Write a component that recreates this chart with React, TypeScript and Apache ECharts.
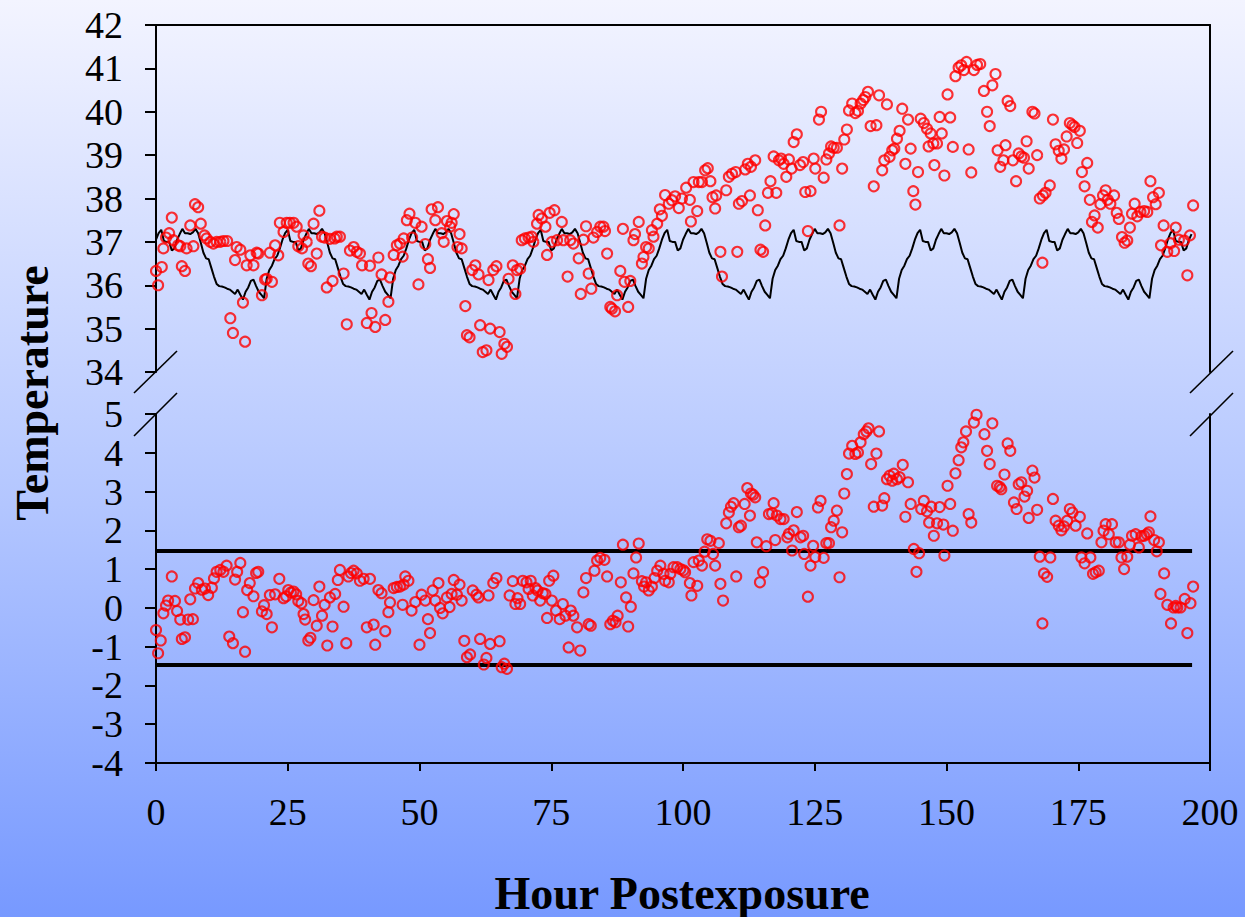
import React, { useEffect, useRef } from "react";
import * as echarts from "echarts";

// ---------- DATA ----------
const hourTicks = [0, 25, 50, 75, 100, 125, 150, 175, 200];
const upperRange = [34, 42];
const lowerRange = [-4, 5];
const limitValues = [1.47, -1.47];
const limitHours = [0, 196.6];
const baselineStep = 0.5; // hours between baseline samples

// normal (baseline) temperature, every half hour from hour 0
const baselineTemp = [
  37.05, 37.2, 37.28, 37.02, 37.0, 37.0, 36.8, 36.85, 37.05, 37.18, 37.3, 37.2, 37.2, 37.18, 37.22, 37.3, 37.2, 36.98, 36.75, 36.62, 36.6, 36.4, 36.2, 36.03, 35.98, 35.97, 35.95, 35.92, 35.9, 35.85, 35.8, 35.9, 35.78, 35.67, 35.85, 35.95, 36.1, 36.13, 35.98, 35.85, 35.78, 35.7, 36.15, 36.35, 36.45, 36.6, 36.68, 36.85,
  37.05, 37.2, 37.28, 37.02, 37.0, 37.0, 36.8, 36.85, 37.05, 37.18, 37.3, 37.2, 37.2, 37.18, 37.22, 37.3, 37.2, 36.98, 36.75, 36.62, 36.6, 36.4, 36.2, 36.03, 35.98, 35.97, 35.95, 35.92, 35.9, 35.85, 35.8, 35.9, 35.78, 35.67, 35.85, 35.95, 36.1, 36.13, 35.98, 35.85, 35.78, 35.7, 36.15, 36.35, 36.45, 36.6, 36.68, 36.85,
  37.05, 37.2, 37.28, 37.02, 37.0, 37.0, 36.8, 36.85, 37.05, 37.18, 37.3, 37.2, 37.2, 37.18, 37.22, 37.3, 37.2, 36.98, 36.75, 36.62, 36.6, 36.4, 36.2, 36.03, 35.98, 35.97, 35.95, 35.92, 35.9, 35.85, 35.8, 35.9, 35.78, 35.67, 35.85, 35.95, 36.1, 36.13, 35.98, 35.85, 35.78, 35.7, 36.15, 36.35, 36.45, 36.6, 36.68, 36.85,
  37.05, 37.2, 37.28, 37.02, 37.0, 37.0, 36.8, 36.85, 37.05, 37.18, 37.3, 37.2, 37.2, 37.18, 37.22, 37.3, 37.2, 36.98, 36.75, 36.62, 36.6, 36.4, 36.2, 36.03, 35.98, 35.97, 35.95, 35.92, 35.9, 35.85, 35.8, 35.9, 35.78, 35.67, 35.85, 35.95, 36.1, 36.13, 35.98, 35.85, 35.78, 35.7, 36.15, 36.35, 36.45, 36.6, 36.68, 36.85,
  37.05, 37.2, 37.28, 37.02, 37.0, 37.0, 36.8, 36.85, 37.05, 37.18, 37.3, 37.2, 37.2, 37.18, 37.22, 37.3, 37.2, 36.98, 36.75, 36.62, 36.6, 36.4, 36.2, 36.03, 35.98, 35.97, 35.95, 35.92, 35.9, 35.85, 35.8, 35.9, 35.78, 35.67, 35.85, 35.95, 36.1, 36.13, 35.98, 35.85, 35.78, 35.7, 36.15, 36.35, 36.45, 36.6, 36.68, 36.85,
  37.05, 37.2, 37.28, 37.02, 37.0, 37.0, 36.8, 36.85, 37.05, 37.18, 37.3, 37.2, 37.2, 37.18, 37.22, 37.3, 37.2, 36.98, 36.75, 36.62, 36.6, 36.4, 36.2, 36.03, 35.98, 35.97, 35.95, 35.92, 35.9, 35.85, 35.8, 35.9, 35.78, 35.67, 35.85, 35.95, 36.1, 36.13, 35.98, 35.85, 35.78, 35.7, 36.15, 36.35, 36.45, 36.6, 36.68, 36.85,
  37.05, 37.2, 37.28, 37.02, 37.0, 37.0, 36.8, 36.85, 37.05, 37.18, 37.3, 37.2, 37.2, 37.18, 37.22, 37.3, 37.2, 36.98, 36.75, 36.62, 36.6, 36.4, 36.2, 36.03, 35.98, 35.97, 35.95, 35.92, 35.9, 35.85, 35.8, 35.9, 35.78, 35.67, 35.85, 35.95, 36.1, 36.13, 35.98, 35.85, 35.78, 35.7, 36.15, 36.35, 36.45, 36.6, 36.68, 36.85,
  37.05, 37.2, 37.28, 37.02, 37.0, 37.0, 36.8, 36.85, 37.05, 37.18, 37.3, 37.2, 37.2, 37.18, 37.22, 37.3, 37.2, 36.98, 36.75, 36.62, 36.6, 36.4, 36.2, 36.03, 35.98, 35.97, 35.95, 35.92, 35.9, 35.85, 35.8, 35.9, 35.78, 35.67, 35.85, 35.95, 36.1, 36.13, 35.98, 35.85, 35.78, 35.7, 36.15, 36.35, 36.45, 36.6, 36.68, 36.85,
  37.05, 37.2, 37.28, 37.02, 37.0, 37.0, 36.8, 36.85, 37.05, 37.18,
];

// observed temperature: [hour, °C]
const observedTemp: [number, number][] = [
  [0.0, 36.33], [0.4, 36.0], [1.1, 36.42], [1.4, 36.85], [1.9, 37.1], [2.5, 37.2], [3.0, 37.56], [3.3, 37.04], [4.2, 36.92], [4.6, 36.9],
  [4.9, 36.44], [5.5, 36.33], [5.8, 36.85], [6.5, 37.38], [7.1, 36.9], [7.4, 37.87], [8.0, 37.8], [8.5, 37.42], [9.2, 37.15], [9.6, 37.08],
  [10.3, 37.0], [10.9, 36.96], [11.5, 37.0], [12.2, 37.0], [12.8, 37.02], [13.5, 37.02], [14.1, 35.24], [14.6, 34.9], [15.0, 36.58], [15.3, 36.88],
  [16.0, 36.82], [16.5, 35.6], [16.9, 34.7], [17.2, 36.46], [17.9, 36.69], [18.5, 36.46], [19.1, 36.75], [19.4, 36.73], [20.1, 35.77], [20.7, 36.13],
  [21.0, 36.15], [21.6, 36.75], [22.0, 36.08], [22.6, 36.92], [23.2, 36.69], [23.5, 37.44], [24.2, 37.23], [24.8, 37.44], [25.4, 37.44], [26.1, 37.44],
  [26.7, 37.35], [27.0, 36.9], [27.7, 36.85], [28.0, 37.15], [28.6, 37.0], [28.9, 36.5], [29.4, 36.44], [29.9, 37.42], [30.5, 36.73], [31.0, 37.72],
  [31.5, 37.12], [32.0, 37.1], [32.4, 35.95], [33.0, 37.07], [33.5, 36.1], [33.9, 37.08], [34.3, 37.12], [34.9, 37.12], [35.6, 36.27], [36.2, 35.1],
  [36.8, 36.8], [37.5, 36.88], [38.1, 36.77], [38.7, 36.73], [39.1, 36.46], [40.0, 35.13], [40.6, 36.45], [40.9, 35.36], [41.6, 35.04], [42.2, 36.64],
  [42.8, 36.25], [43.5, 35.2], [44.1, 35.62], [44.4, 36.18], [45.1, 36.7], [45.7, 36.92], [46.3, 36.96], [46.8, 36.66], [47.0, 37.08], [47.6, 37.5],
  [48.1, 37.65], [48.6, 37.1], [49.2, 37.44], [49.8, 36.02], [50.4, 37.35], [51.1, 36.95], [51.6, 36.6], [52.0, 36.4], [52.3, 37.75], [53.0, 37.5],
  [53.5, 37.8], [54.2, 37.2], [54.6, 37.0], [55.2, 37.48], [55.8, 37.35], [56.1, 37.44], [56.5, 37.64], [57.2, 36.88], [57.6, 37.18], [58.0, 36.85],
  [58.7, 35.52], [59.0, 34.85], [59.5, 34.8], [60.0, 36.35], [60.6, 36.46], [61.2, 36.25], [61.5, 35.08], [62.0, 34.46], [62.7, 34.5], [63.1, 36.12],
  [63.4, 35.0], [64.0, 36.35], [64.6, 36.44], [65.2, 34.92], [65.6, 34.42], [66.1, 34.65], [66.6, 34.58], [66.9, 36.15], [67.7, 36.46], [68.2, 35.8],
  [68.5, 36.35], [69.1, 36.38], [69.4, 37.04], [70.0, 37.08], [70.7, 37.1], [71.3, 37.12], [71.6, 37.0], [72.3, 37.42], [72.6, 37.62], [73.2, 37.54],
  [73.9, 37.35], [74.2, 36.7], [74.7, 37.67], [75.1, 37.0], [75.6, 37.73], [76.1, 37.04], [77.0, 37.46], [77.3, 37.04], [78.1, 36.2], [78.6, 37.04],
  [79.2, 36.96], [80.2, 36.62], [80.6, 35.8], [81.1, 37.05], [81.6, 37.36], [82.1, 36.27], [82.6, 35.92], [83.0, 37.1], [83.7, 37.23], [84.3, 37.35],
  [84.9, 37.35], [85.2, 37.25], [85.6, 36.73], [86.2, 35.5], [86.5, 35.46], [87.1, 35.4], [87.5, 35.77], [88.1, 36.33], [88.6, 37.3], [88.9, 36.08],
  [89.6, 35.5], [90.0, 36.1], [90.6, 37.04], [90.9, 37.18], [91.6, 37.46], [92.2, 36.5], [92.5, 36.65], [93.0, 36.88], [93.5, 36.85], [94.1, 37.27],
  [94.4, 37.12], [95.1, 37.42], [95.6, 37.75], [96.0, 37.6], [96.6, 38.08], [97.3, 37.88], [97.9, 37.96], [98.5, 38.05], [99.2, 37.78], [99.8, 38.0],
  [100.6, 38.25], [101.3, 37.97], [101.5, 37.47], [102.0, 38.38], [102.7, 37.71], [103.0, 38.38], [103.6, 38.38], [104.2, 38.65], [104.7, 38.7], [105.2, 38.4],
  [105.6, 38.03], [106.1, 37.77], [106.3, 38.07], [107.1, 36.77], [107.4, 36.2], [108.2, 38.19], [108.7, 38.5], [109.3, 38.57], [110.0, 38.61], [110.3, 36.77],
  [110.6, 37.88], [111.2, 37.94], [111.8, 38.67], [112.3, 38.8], [112.7, 38.07], [112.9, 38.73], [113.7, 38.88], [114.2, 37.73], [114.7, 36.82], [115.2, 36.77],
  [115.6, 37.38], [116.1, 38.13], [116.6, 38.4], [117.2, 38.97], [117.7, 38.13], [118.2, 38.88], [118.6, 38.92], [119.1, 38.8], [119.6, 38.5], [120.1, 38.9],
  [120.6, 38.69], [121.0, 39.3], [121.6, 39.48], [122.2, 38.77], [122.8, 38.84], [123.2, 38.15], [123.7, 37.25], [124.2, 38.17], [124.8, 38.92], [125.1, 38.69],
  [125.8, 39.82], [126.2, 40.0], [126.7, 38.48], [127.2, 38.9], [127.7, 39.04], [128.1, 39.2], [128.6, 39.17], [129.2, 39.17], [129.7, 37.38], [130.2, 38.69],
  [130.6, 39.36], [131.1, 39.59], [131.5, 40.03], [132.1, 40.19], [132.7, 39.97], [133.2, 40.02], [133.7, 40.19], [134.2, 40.27], [134.6, 40.34], [135.1, 40.46],
  [135.6, 39.67], [136.2, 38.28], [136.7, 39.69], [137.2, 40.38], [137.8, 38.65], [138.2, 38.88], [138.7, 40.17], [139.2, 38.96], [139.7, 39.11], [140.1, 39.15],
  [140.6, 39.38], [141.1, 39.56], [141.6, 40.07], [142.2, 38.8], [142.7, 39.82], [143.2, 39.15], [143.7, 38.17], [144.1, 37.86], [144.6, 38.61], [145.1, 39.84],
  [145.7, 39.74], [146.3, 39.61], [146.6, 39.2], [147.0, 39.5], [147.5, 39.27], [147.7, 38.77], [148.2, 39.27], [148.7, 39.88], [149.1, 39.5], [149.6, 38.53],
  [150.2, 40.4], [150.7, 39.87], [151.2, 39.19], [151.7, 40.82], [152.3, 41.02], [152.8, 41.07], [153.3, 40.96], [153.8, 41.15], [154.2, 39.13], [154.7, 38.6],
  [155.2, 40.96], [155.8, 41.08], [156.4, 41.1], [157.1, 40.48], [157.7, 40.0], [158.2, 39.67], [158.7, 40.61], [159.3, 40.87], [159.7, 39.11], [160.2, 38.73],
  [160.8, 38.88], [161.2, 39.23], [161.6, 40.25], [162.1, 40.13], [162.6, 38.88], [163.2, 38.4], [163.7, 39.04], [164.2, 38.97], [164.7, 38.94], [165.2, 39.32],
  [165.6, 38.69], [166.3, 40.0], [166.7, 39.96], [167.2, 39.0], [167.7, 38.0], [168.2, 36.52], [168.3, 38.07], [168.8, 38.13], [169.6, 38.3], [170.2, 39.82],
  [170.7, 39.25], [171.3, 39.1], [171.8, 38.92], [172.3, 39.13], [172.8, 39.43], [173.4, 39.74], [173.9, 39.69], [174.3, 39.65], [174.8, 39.28], [175.3, 39.56],
  [175.7, 38.61], [176.2, 38.28], [176.7, 38.82], [177.2, 37.97], [177.6, 37.46], [178.1, 37.61], [178.7, 37.33], [179.2, 37.87], [179.7, 38.07], [180.2, 38.19],
  [180.6, 37.97], [181.1, 37.88], [181.8, 38.07], [182.3, 37.67], [182.7, 37.53], [183.3, 37.11], [183.8, 36.98], [184.3, 37.03], [184.8, 37.33], [185.2, 37.65],
  [185.7, 37.88], [186.2, 37.59], [186.8, 37.69], [187.5, 37.71], [188.1, 37.69], [188.7, 38.4], [189.2, 38.03], [189.7, 37.87], [190.3, 38.13], [190.7, 36.92],
  [191.2, 37.38], [191.9, 36.77], [192.5, 36.97], [193.2, 36.79], [193.5, 37.33], [194.1, 37.05], [195.1, 37.03], [195.7, 36.23], [196.2, 37.15], [196.8, 37.84],
];

// deviation from normal temperature: [hour, °C]
const deviation: [number, number][] = [
  [0.0, -0.57], [0.4, -1.17], [0.9, -0.84], [1.4, -0.14], [1.9, 0.06], [2.3, 0.19], [3.0, 0.81], [3.6, 0.18], [4.0, -0.08], [4.6, -0.3],
  [4.9, -0.8], [5.5, -0.76], [6.1, -0.3], [6.5, 0.22], [7.0, -0.29], [7.4, 0.5], [8.0, 0.64], [8.7, 0.47], [9.3, 0.5], [9.9, 0.33],
  [10.6, 0.52], [11.0, 0.76], [11.5, 0.93], [12.2, 0.98], [12.8, 0.93], [13.4, 1.09], [13.9, -0.74], [14.6, -0.91], [15.0, 0.73], [15.4, 0.93],
  [16.0, 1.16], [16.5, -0.11], [16.9, -1.13], [17.3, 0.46], [17.8, 0.64], [18.5, 0.3], [19.0, 0.9], [19.4, 0.93], [20.1, -0.09], [20.5, 0.07],
  [21.0, -0.16], [21.6, 0.33], [22.0, -0.5], [22.6, 0.35], [23.4, 0.75], [24.2, 0.25], [24.7, 0.3], [25.1, 0.46], [25.6, 0.4], [26.1, 0.42],
  [26.6, 0.35], [27.0, 0.18], [27.6, 0.12], [28.0, -0.16], [28.3, -0.3], [28.9, -0.84], [29.3, -0.77], [29.9, 0.2], [30.5, -0.46], [31.0, 0.55],
  [31.5, -0.2], [32.0, 0.08], [32.5, -0.97], [33.0, 0.27], [33.5, -0.48], [34.0, 0.36], [34.5, 0.72], [34.9, 0.98], [35.6, 0.03], [36.1, -0.91],
  [36.5, 0.81], [37.0, 0.9], [37.5, 0.96], [38.1, 0.89], [38.7, 0.7], [39.4, 0.75], [40.0, -0.5], [40.6, 0.75], [41.3, -0.43], [41.6, -0.95],
  [42.2, 0.46], [42.8, 0.38], [43.5, -0.6], [44.1, -0.11], [44.4, 0.14], [45.1, 0.51], [45.7, 0.54], [46.3, 0.55], [46.8, 0.08], [47.0, 0.6],
  [47.3, 0.81], [47.9, 0.7], [48.5, -0.07], [49.2, 0.15], [50.0, -0.95], [50.4, 0.34], [51.1, 0.19], [51.6, -0.29], [52.0, -0.65], [52.5, 0.45],
  [53.0, 0.19], [53.6, 0.64], [53.9, 0.0], [54.4, -0.14], [55.2, 0.27], [55.7, 0.02], [56.1, 0.36], [56.5, 0.72], [57.1, 0.34], [57.6, 0.6],
  [58.0, 0.19], [58.5, -0.85], [59.0, -1.27], [59.6, -1.2], [60.1, 0.45], [60.8, 0.34], [61.2, 0.27], [61.5, -0.8], [62.2, -1.46], [62.7, -1.29],
  [63.1, 0.32], [63.4, -0.93], [64.0, 0.64], [64.6, 0.77], [65.2, -0.86], [65.6, -1.53], [66.1, -1.44], [66.6, -1.57], [67.1, 0.32], [67.7, 0.69],
  [68.2, 0.1], [68.6, 0.25], [69.1, 0.1], [69.6, 0.7], [70.3, 0.66], [70.7, 0.49], [71.1, 0.7], [71.5, 0.32], [72.0, 0.51], [72.4, 0.45],
  [72.9, 0.19], [73.4, 0.38], [73.9, 0.36], [74.2, -0.26], [74.6, 0.7], [75.1, 0.19], [75.4, 0.83], [75.9, -0.07], [76.6, -0.29], [77.2, 0.1],
  [77.7, -0.2], [78.3, -1.02], [78.7, -0.07], [79.2, -0.2], [79.9, -0.5], [80.5, -1.1], [81.1, 0.4], [81.6, 0.77], [82.1, -0.42], [82.5, -0.46],
  [83.2, 0.96], [83.7, 1.22], [84.3, 1.29], [85.1, 1.24], [85.6, 0.81], [86.2, -0.42], [86.7, -0.33], [87.2, -0.37], [87.6, -0.2], [88.2, 0.66],
  [88.6, 1.63], [89.2, 0.27], [89.6, -0.48], [90.1, 0.03], [90.6, 0.89], [91.1, 1.3], [91.6, 1.66], [92.2, 0.69], [92.6, 0.55], [93.0, 0.66],
  [93.5, 0.45], [94.1, 0.55], [94.6, 0.77], [95.1, 0.96], [95.7, 1.09], [96.3, 0.88], [96.6, 0.7], [97.3, 0.66], [97.6, 0.88], [98.2, 1.05],
  [98.9, 1.05], [99.5, 1.0], [100.1, 0.97], [100.4, 0.92], [101.3, 0.64], [101.6, 0.32], [102.0, 1.18], [102.7, 0.57], [103.0, 1.22], [103.6, 1.09],
  [104.1, 1.45], [104.6, 1.77], [105.2, 1.73], [105.7, 1.39], [106.1, 1.09], [106.8, 1.67], [107.1, 0.62], [107.6, 0.19], [108.2, 2.18], [108.7, 2.46],
  [109.1, 2.61], [109.6, 2.7], [110.1, 0.81], [110.6, 2.08], [111.0, 2.12], [111.7, 2.68], [112.2, 3.09], [112.7, 2.38], [112.9, 2.95], [113.3, 2.92],
  [113.7, 2.85], [114.0, 1.69], [114.6, 0.66], [115.2, 0.92], [115.8, 1.59], [116.3, 2.42], [116.9, 2.44], [117.2, 2.7], [117.5, 1.75], [117.8, 2.38],
  [118.5, 2.29], [119.1, 2.29], [119.8, 1.82], [120.1, 1.91], [120.7, 1.48], [121.0, 2.0], [121.6, 2.47], [122.3, 1.82], [122.8, 1.86], [123.0, 1.39],
  [123.7, 0.29], [124.2, 1.09], [124.7, 1.6], [125.1, 1.31], [125.6, 2.59], [126.1, 2.76], [126.7, 1.29], [127.2, 1.67], [127.7, 1.67], [128.1, 2.08],
  [128.6, 2.25], [129.2, 2.51], [129.7, 0.79], [130.2, 1.95], [130.6, 2.95], [131.1, 3.45], [131.5, 3.98], [132.1, 4.18], [132.7, 3.97], [133.2, 4.01],
  [133.7, 4.27], [134.3, 4.48], [134.8, 4.55], [135.2, 4.63], [135.7, 3.71], [136.2, 2.61], [136.7, 3.98], [137.2, 4.55], [137.8, 2.64], [138.2, 2.83],
  [138.7, 3.32], [139.2, 3.41], [139.7, 3.28], [140.0, 3.46], [140.6, 3.32], [141.1, 3.37], [141.7, 3.69], [142.2, 2.35], [142.7, 3.24], [143.2, 2.68],
  [143.8, 1.52], [144.3, 0.93], [144.8, 1.41], [145.2, 2.55], [145.7, 2.76], [146.3, 2.49], [146.7, 2.2], [147.1, 2.61], [147.6, 1.86], [148.2, 2.18],
  [148.7, 2.6], [149.4, 2.15], [149.6, 1.35], [150.2, 3.15], [150.7, 2.68], [151.2, 1.99], [151.7, 3.47], [152.3, 3.81], [152.8, 4.14], [153.2, 4.27],
  [153.7, 4.55], [154.2, 2.42], [154.7, 2.2], [155.2, 4.78], [155.7, 4.98], [157.2, 4.48], [157.7, 4.05], [158.2, 3.71], [158.7, 4.76], [159.6, 3.15],
  [160.1, 3.12], [160.4, 3.06], [161.0, 3.44], [161.6, 4.24], [162.1, 4.05], [162.8, 2.72], [163.3, 2.55], [163.7, 3.19], [164.2, 3.24], [164.8, 2.87],
  [165.3, 3.02], [165.6, 2.32], [166.3, 3.54], [166.7, 3.36], [167.2, 2.53], [167.7, 1.32], [168.2, -0.4], [168.5, 0.89], [169.1, 0.8], [169.7, 1.3],
  [170.2, 2.81], [170.7, 2.25], [171.3, 2.12], [171.8, 2.0], [172.3, 2.1], [172.9, 2.25], [173.4, 2.55], [173.9, 2.46], [174.5, 2.12], [175.3, 2.35],
  [175.6, 1.3], [176.2, 1.15], [176.7, 1.92], [177.3, 1.3], [177.8, 0.88], [178.3, 0.92], [178.9, 0.96], [179.4, 1.69], [179.8, 1.99], [180.2, 2.16],
  [180.8, 1.9], [181.4, 2.16], [182.1, 1.69], [182.7, 1.69], [183.2, 1.3], [183.7, 1.0], [184.3, 1.32], [184.8, 1.63], [185.2, 1.86], [185.9, 1.9],
  [186.5, 1.56], [187.0, 1.85], [187.5, 1.86], [188.0, 1.9], [188.4, 1.95], [188.7, 2.36], [189.4, 1.75], [189.9, 1.46], [190.3, 1.69], [190.6, 0.36],
  [191.3, 0.89], [191.9, 0.08], [192.6, -0.4], [193.1, 0.01], [193.5, 0.05], [193.8, 0.01], [194.4, 0.01], [195.2, 0.23], [195.7, -0.65], [196.3, 0.12],
  [196.8, 0.55],
];

// ---------- CHART ----------
const FONT = "'Liberation Serif', 'Times New Roman', Times, serif";
const BLACK = "#000000";
const RED = "#ff0000";

export default function App() {
  const ref = useRef<HTMLDivElement>(null);

  useEffect(() => {
    if (!ref.current) return;
    const chart = echarts.init(ref.current, null, { renderer: "svg" });

    const axisLineStyle = { color: BLACK, width: 2 };
    const labelStyle = { fontSize: 38, fontFamily: FONT, color: BLACK };

    const baselineData = baselineTemp.map((v, i) => [i * baselineStep, v]);
    const limitSeries = limitValues.map((v) => ({
      type: "line",
      xAxisIndex: 1,
      yAxisIndex: 2,
      data: limitHours.map((h) => [h, v]),
      symbol: "none",
      silent: true,
      lineStyle: { color: BLACK, width: 4 },
      z: 2,
    }));

    const markerStyle = {
      color: "rgba(0,0,0,0)",
      borderColor: RED,
      borderWidth: 2.1,
    };

    const breakLine = (x1: number, y1: number, x2: number, y2: number) => ({
      type: "line",
      shape: { x1, y1, x2, y2 },
      style: { stroke: BLACK, lineWidth: 1.6 },
      silent: true,
    });

    const option: any = {
      animation: false,
      backgroundColor: "transparent",
      grid: [
        { left: 156, top: 25, width: 1054, height: 347, outerBoundsMode: "none" },
        { left: 156, top: 414, width: 1054, height: 349, outerBoundsMode: "none" },
      ],
      xAxis: [
        {
          gridIndex: 0,
          type: "value",
          position: "top",
          min: hourTicks[0],
          max: hourTicks[hourTicks.length - 1],
          interval: 25,
          axisLine: { show: true, onZero: false, lineStyle: axisLineStyle },
          axisTick: { show: false },
          axisLabel: { show: false },
          splitLine: { show: false },
        },
        {
          gridIndex: 1,
          type: "value",
          position: "bottom",
          min: hourTicks[0],
          max: hourTicks[hourTicks.length - 1],
          interval: 25,
          axisLine: { show: true, onZero: false, lineStyle: axisLineStyle },
          axisTick: { show: true, length: 8, lineStyle: axisLineStyle },
          axisLabel: { ...labelStyle, margin: 30, showMinLabel: true, showMaxLabel: true },
          splitLine: { show: false },
        },
      ],
      yAxis: [
        {
          gridIndex: 0,
          type: "value",
          position: "left",
          min: upperRange[0],
          max: upperRange[1],
          interval: 1,
          axisLine: { show: true, onZero: false, lineStyle: axisLineStyle },
          axisTick: { show: true, length: 11, lineStyle: axisLineStyle },
          axisLabel: { ...labelStyle, margin: 33, showMinLabel: true, showMaxLabel: true },
          splitLine: { show: false },
        },
        {
          gridIndex: 0,
          type: "value",
          position: "right",
          min: upperRange[0],
          max: upperRange[1],
          axisLine: { show: true, onZero: false, lineStyle: axisLineStyle },
          axisTick: { show: false },
          axisLabel: { show: false },
          splitLine: { show: false },
        },
        {
          gridIndex: 1,
          type: "value",
          position: "left",
          min: lowerRange[0],
          max: lowerRange[1],
          interval: 1,
          axisLine: { show: true, onZero: false, lineStyle: axisLineStyle },
          axisTick: { show: true, length: 11, lineStyle: axisLineStyle },
          axisLabel: { ...labelStyle, margin: 33, showMinLabel: true, showMaxLabel: true },
          splitLine: { show: false },
        },
        {
          gridIndex: 1,
          type: "value",
          position: "right",
          min: lowerRange[0],
          max: lowerRange[1],
          axisLine: { show: true, onZero: false, lineStyle: axisLineStyle },
          axisTick: { show: false },
          axisLabel: { show: false },
          splitLine: { show: false },
        },
      ],
      series: [
        {
          name: "Normal",
          type: "line",
          xAxisIndex: 0,
          yAxisIndex: 0,
          data: baselineData,
          symbol: "none",
          silent: true,
          lineStyle: { color: BLACK, width: 2 },
          z: 2,
        },
        {
          name: "Observed",
          type: "scatter",
          xAxisIndex: 0,
          yAxisIndex: 0,
          data: observedTemp,
          symbol: "circle",
          symbolSize: 10,
          itemStyle: markerStyle,
          z: 3,
        },
        ...limitSeries,
        {
          name: "Deviation",
          type: "scatter",
          xAxisIndex: 1,
          yAxisIndex: 2,
          data: deviation,
          symbol: "circle",
          symbolSize: 10,
          itemStyle: markerStyle,
          z: 3,
        },
      ],
      graphic: [
        breakLine(134, 393, 177, 351),
        breakLine(134, 436, 177, 393),
        breakLine(1190, 393, 1233, 351),
        breakLine(1190, 436, 1233, 393),
        {
          type: "text",
          x: 32,
          y: 393,
          rotation: Math.PI / 2,
          silent: true,
          style: {
            text: "Temperature",
            fontSize: 46,
            fontWeight: "bold",
            fontFamily: FONT,
            fill: BLACK,
            align: "center",
            verticalAlign: "middle",
          },
        },
        {
          type: "text",
          x: 682,
          y: 893,
          silent: true,
          style: {
            text: "Hour Postexposure",
            fontSize: 46,
            fontWeight: "bold",
            fontFamily: FONT,
            fill: BLACK,
            align: "center",
            verticalAlign: "middle",
          },
        },
      ],
    };

    chart.setOption(option);
    return () => chart.dispose();
  }, []);

  return (
    <div
      ref={ref}
      style={{
        position: "absolute",
        left: 0,
        top: 0,
        width: 1245,
        height: 917,
        background: "linear-gradient(to bottom, #f3f4ff 0%, #b3c6ff 55%, #7799ff 100%)",
      }}
    />
  );
}
